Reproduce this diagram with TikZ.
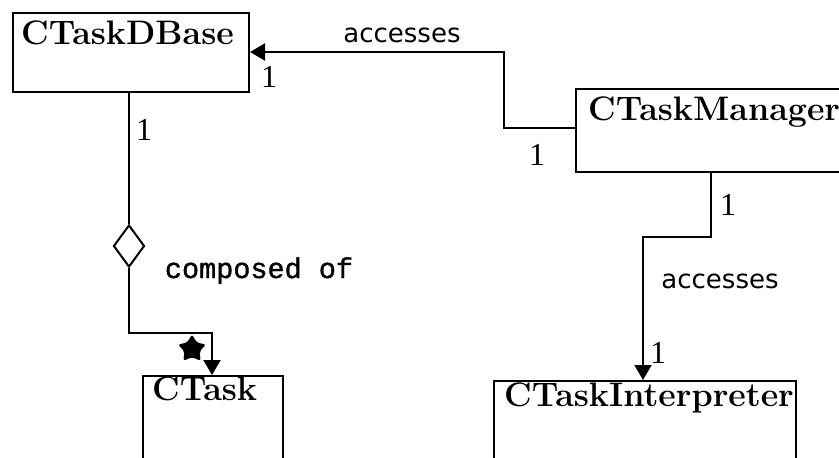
\documentclass[tikz,border=0pt]{standalone}
\usepackage{fontspec}
\newfontfamily\digitfont{Liberation Serif}
\newfontfamily\accfont{DejaVu Sans}
\newfontfamily\compfont[FakeBold=1.2]{Liberation Mono}
\usetikzlibrary{arrows.meta,shapes.geometric}
\begin{document}
\begin{tikzpicture}[x=1pt,y=-1pt,
 box/.style={draw,line width=2pt,inner sep=0,anchor=north west},
 title/.style={inner sep=0,anchor=base west,font=\fontsize{34}{38}\selectfont\bfseries},
 mult/.style={inner sep=0,anchor=base,font=\digitfont\fontsize{32}{36}\selectfont},
 acc/.style={inner sep=0,anchor=base,font=\accfont\fontsize{26}{30}\selectfont},
 conn/.style={line width=2pt},
 tip/.style={-{Triangle[length=15pt,width=17pt]}}]
\clip (0,0) rectangle (839,458);
\fill[white] (0,0) rectangle (839,458);
% class boxes
\node[box,minimum width=236pt,minimum height=79pt] (db) at (12,12) {};
\node[box,minimum width=290pt,minimum height=83pt] (mgr) at (575,88) {};
\node[box,minimum width=140pt,minimum height=100pt] (task) at (142,375) {};
\node[box,minimum width=302pt,minimum height=100pt] (interp) at (493,380) {};
% titles
\node[title] (dbT) at (21,44) {CTaskDBase};
\node[title] (mgrT) at (588,120) {CTaskManager};
\node[title] (taskT) at (152,400) {CTask};
\node[title] (interpT) at (504,406) {CTaskInterpreter};
% aggregation diamond
\node[draw,diamond,line width=2pt,inner sep=0,minimum width=31pt,minimum height=42pt] (agg) at (129,246) {};
% connectors
\draw[conn] (agg.north |- db.south) -- (agg.north);
\coordinate (c1) at (129,333);
\coordinate (c2) at (212,333);
\draw[conn,tip] (agg.south) -- (c1) -- (c2) -- (c2 |- task.north);
\coordinate (m1) at (504,128);
\coordinate (m2) at (504,52);
\draw[conn,tip] (mgr.west |- m1) -- (m1) -- (m2) -- (m2 -| db.east);
\coordinate (i1) at (711,237);
\coordinate (i2) at (643,237);
\draw[conn,tip] (i1 |- mgr.south) -- (i1) -- (i2) -- (i2 |- interp.north);
% many marker
\node[star,star points=5,star point ratio=1.8,fill,inner sep=0,minimum size=29pt,rounded corners=2pt] (mstar) at (192,349) {};
% labels
\node[acc] (accTop) at (402,42) {accesses};
\node[acc] (accR) at (720,288) {accesses};
\node[inner sep=0,anchor=base,font=\compfont\fontsize{28.5}{32}\selectfont] (comp) at (259,278) {composed of};
\node[mult] (n1) at (269,87) {1};
\node[mult] (n2) at (144,140) {1};
\node[mult] (n3) at (537,165) {1};
\node[mult] (n4) at (728,215) {1};
\node[mult] (n5) at (658,363) {1};
\end{tikzpicture}
\end{document}
